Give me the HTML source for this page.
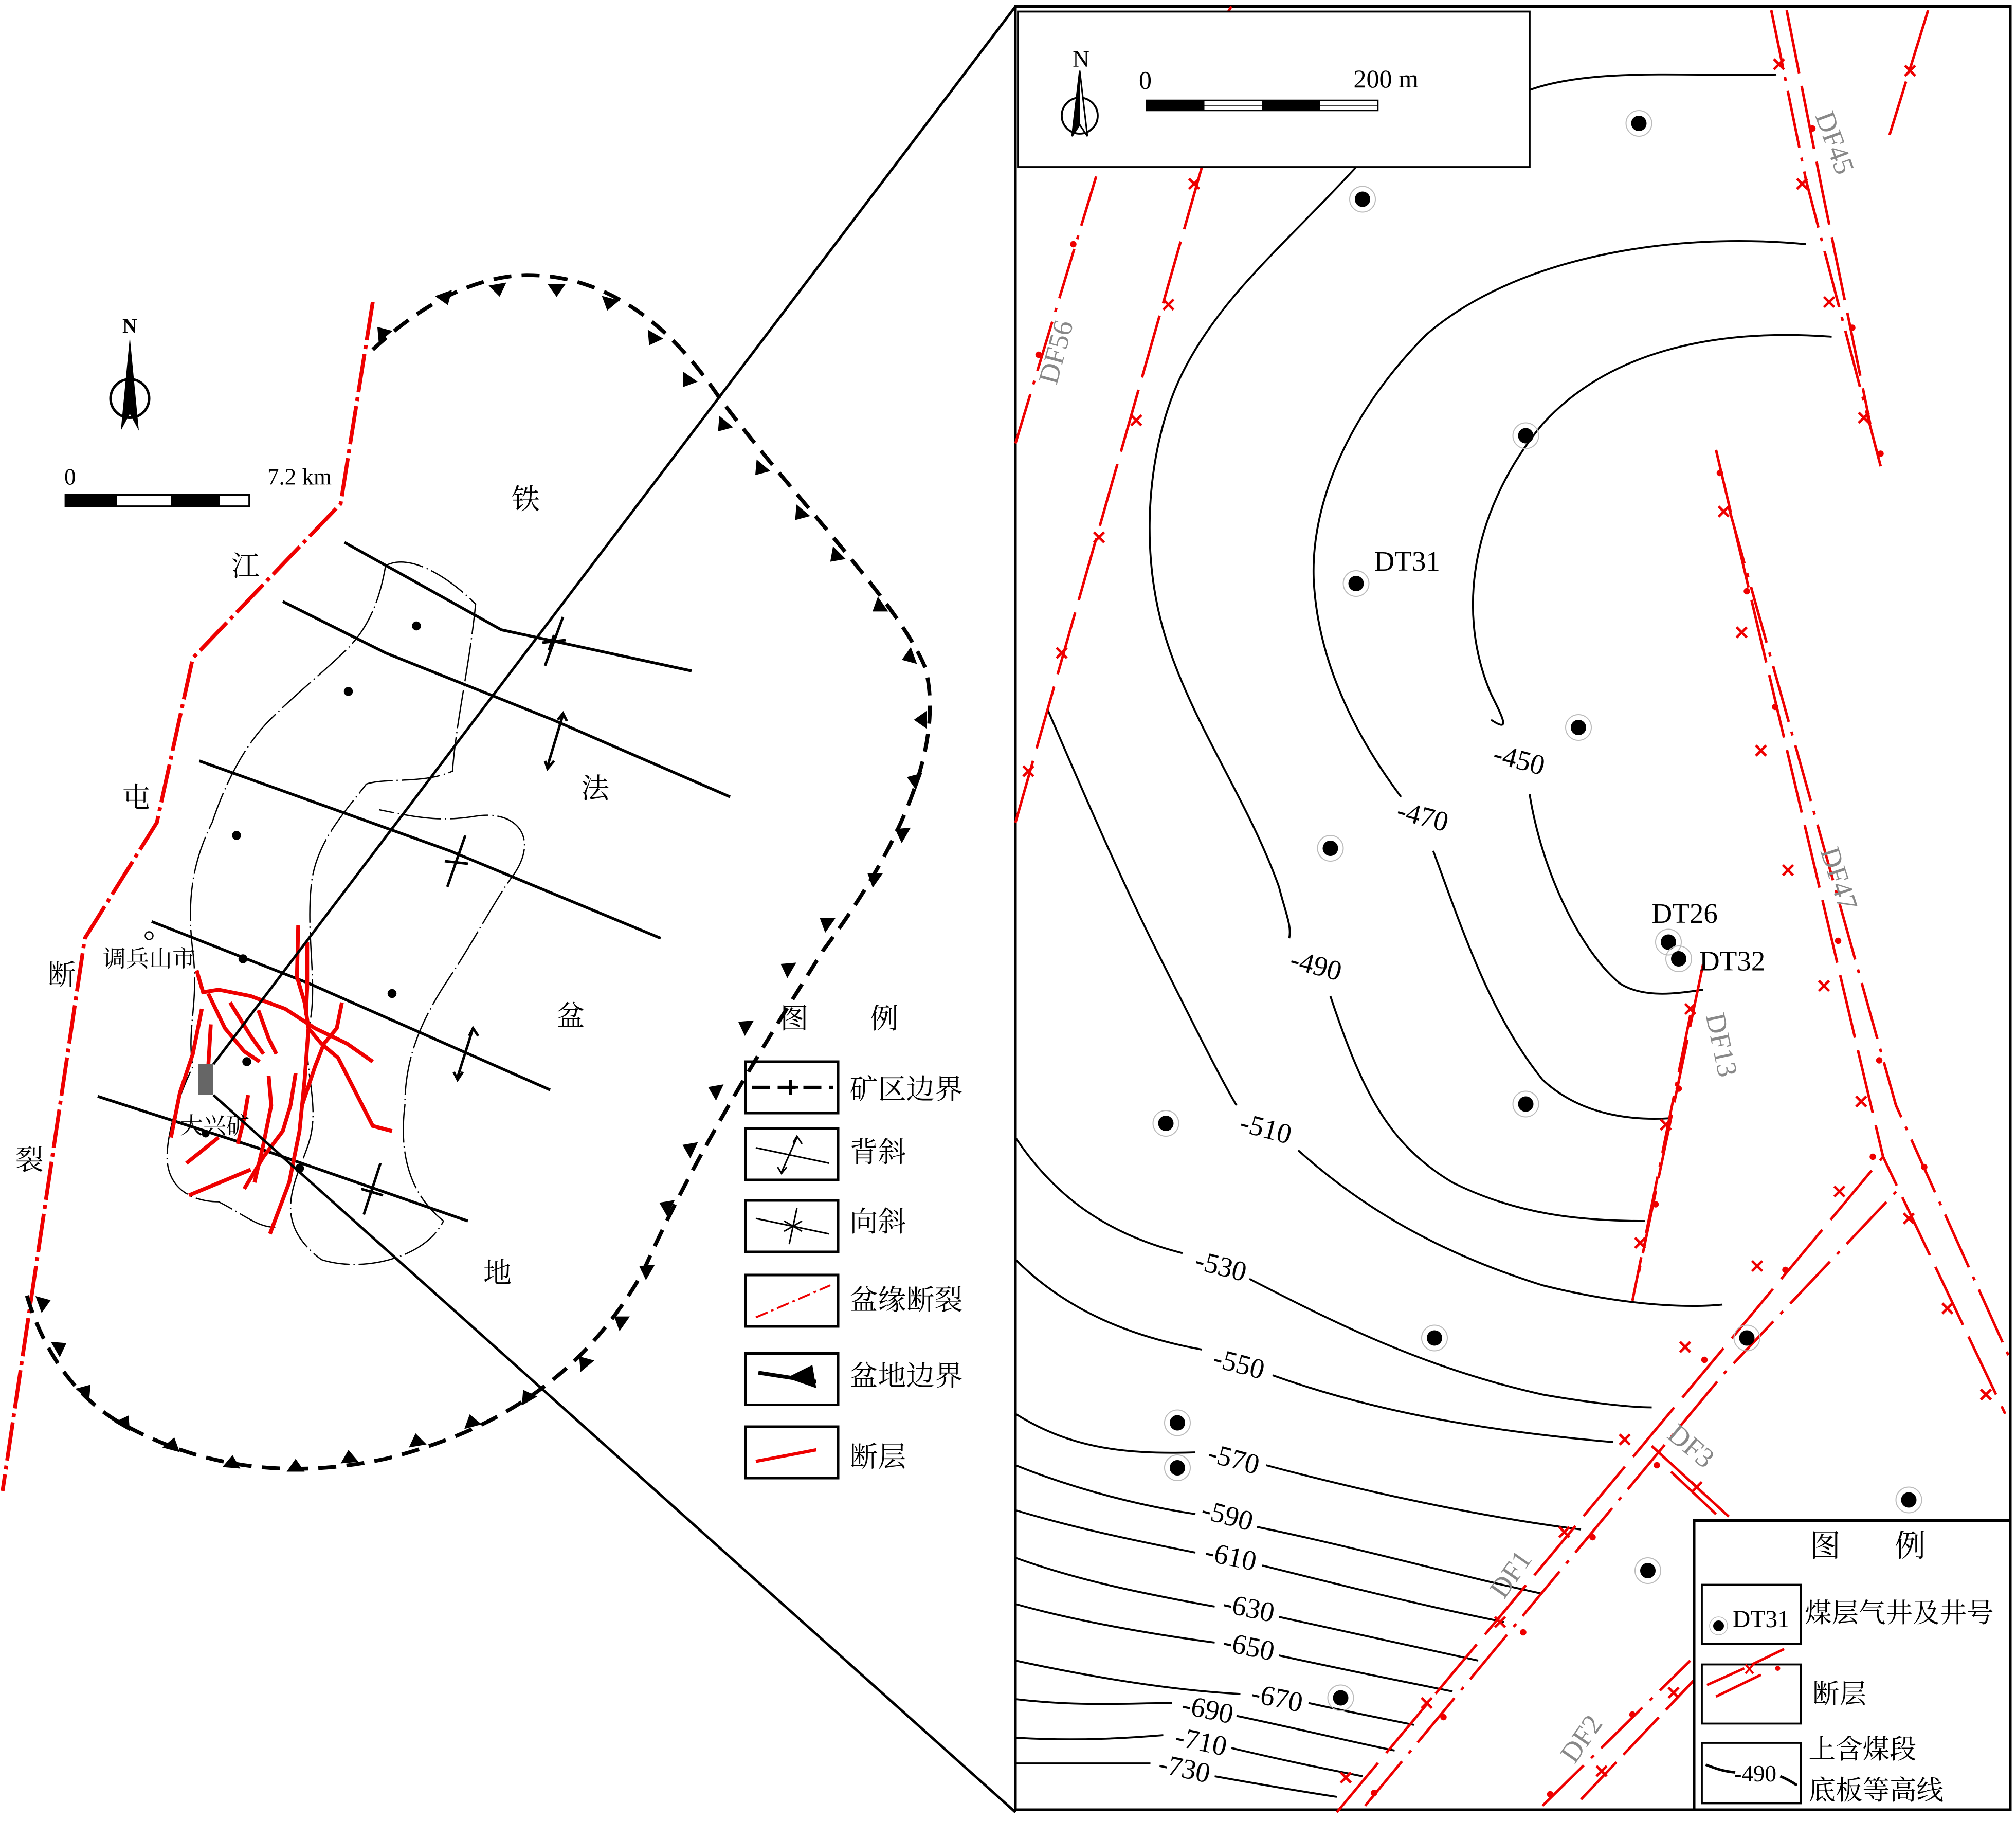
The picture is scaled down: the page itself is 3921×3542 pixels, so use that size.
<!DOCTYPE html>
<html><head><meta charset="utf-8"><style>
html,body{margin:0;padding:0;background:#fff}
svg{display:block}
text{font-family:"Liberation Serif","Noto Serif CJK SC","Noto Sans CJK SC",serif}
</style></head><body>
<svg width="3921" height="3542" viewBox="0 0 1568.4 1416.8" xmlns="http://www.w3.org/2000/svg">
<rect width="1568.4" height="1416.8" fill="#fff"/>
<defs>
<g id="well"><circle r="10" fill="none" stroke="#bbb" stroke-width="0.8"/><circle r="6" fill="#000"/></g>
<g id="tri"><path d="M-7,0 L7,0 L0,-10 Z" fill="#000"/></g>
</defs>

<!-- ============ LEFT PANEL ============ -->
<!-- north arrow -->
<text x="101" y="259" font-size="16" text-anchor="middle" font-weight="bold">N</text>
<circle cx="101" cy="310" r="15" fill="none" stroke="#000" stroke-width="2"/>
<path d="M101,262 L108,335 L101,322 L94,335 Z" fill="#000"/>
<!-- scale -->
<text x="50" y="377" font-size="18">0</text>
<text x="208" y="377" font-size="18">7.2 km</text>
<rect x="51" y="385" width="143" height="9" fill="#fff" stroke="#000" stroke-width="1.5"/>
<rect x="51" y="385" width="40" height="9" fill="#000"/>
<rect x="133" y="385" width="38" height="9" fill="#000"/>

<!-- red boundary fault -->
<polyline points="290,235 265,392 150,512 122,640 66,730 2,1160" fill="none" stroke="#e00" stroke-width="3" stroke-dasharray="30,4,3,4"/>

<!-- basin boundary dashed -->
<path d="M290,272 C330,235 370,215 410,214 C470,214 520,250 560,310 C620,390 700,470 720,520 C735,580 700,660 640,740 C590,820 540,900 500,990 C460,1060 400,1110 300,1135 C230,1150 160,1145 90,1105 C50,1080 30,1040 20,1005" fill="none" stroke="#000" stroke-width="3" stroke-dasharray="14,8"/>
<g>
<use href="#tri" transform="translate(300,262) rotate(-40)"/>
<use href="#tri" transform="translate(345,228) rotate(160)"/>
<use href="#tri" transform="translate(387,221) rotate(170)"/>
<use href="#tri" transform="translate(433,221) rotate(180)"/>
<use href="#tri" transform="translate(475,232) rotate(195)"/>
<use href="#tri" transform="translate(510,260) rotate(210)"/>
<use href="#tri" transform="translate(537,293) rotate(215)"/>
<use href="#tri" transform="translate(565,328) rotate(220)"/>
<use href="#tri" transform="translate(594,362) rotate(220)"/>
<use href="#tri" transform="translate(625,397) rotate(220)"/>
<use href="#tri" transform="translate(653,430) rotate(225)"/>
<use href="#tri" transform="translate(687,470) rotate(235)"/>
<use href="#tri" transform="translate(711,510) rotate(250)"/>
<use href="#tri" transform="translate(721,560) rotate(270)"/>
<use href="#tri" transform="translate(715,608) rotate(290)"/>
<use href="#tri" transform="translate(705,650) rotate(300)"/>
<use href="#tri" transform="translate(683,685) rotate(305)"/>
<use href="#tri" transform="translate(646,720) rotate(305)"/>
<use href="#tri" transform="translate(616,755) rotate(300)"/>
<use href="#tri" transform="translate(583,800) rotate(300)"/>
<use href="#tri" transform="translate(560,850) rotate(295)"/>
<use href="#tri" transform="translate(540,895) rotate(295)"/>
<use href="#tri" transform="translate(522,940) rotate(295)"/>
<use href="#tri" transform="translate(506,990) rotate(300)"/>
<use href="#tri" transform="translate(486,1030) rotate(305)"/>
<use href="#tri" transform="translate(457,1063) rotate(320)"/>
<use href="#tri" transform="translate(412,1090) rotate(330)"/>
<use href="#tri" transform="translate(368,1110) rotate(345)"/>
<use href="#tri" transform="translate(325,1125) rotate(350)"/>
<use href="#tri" transform="translate(272,1138) rotate(355)"/>
<use href="#tri" transform="translate(230,1145) rotate(0)"/>
<use href="#tri" transform="translate(180,1142) rotate(5)"/>
<use href="#tri" transform="translate(133,1128) rotate(15)"/>
<use href="#tri" transform="translate(95,1110) rotate(30)"/>
<use href="#tri" transform="translate(64,1085) rotate(40)"/>
<use href="#tri" transform="translate(43,1050) rotate(60)"/>
<use href="#tri" transform="translate(30,1015) rotate(70)"/>
</g>

<!-- fold axes -->
<g stroke="#000" stroke-width="2.2" fill="none">
<polyline points="268,422 390,490 538,522"/>
<polyline points="220,468 300,508 430,560 568,620"/>
<polyline points="155,592 350,662 514,730"/>
<polyline points="118,717 240,765 428,848"/>
<polyline points="76,853 200,893 364,950"/>
</g>
<g stroke="#000" stroke-width="2" fill="none">
<line x1="424" y1="518" x2="438" y2="480"/><path d="M427,506 L431,494 M422,500 L440,498"/>
<line x1="426" y1="596" x2="438" y2="556"/><path d="M424,592 L426,598 L431,592 M434,560 L438,555 L441,561"/>
<line x1="348" y1="690" x2="362" y2="650"/><path d="M346,670 L364,672"/>
<line x1="356" y1="838" x2="368" y2="800"/><path d="M353,834 L356,840 L360,834 M365,806 L368,800 L372,806"/>
<line x1="283" y1="945" x2="296" y2="905"/><path d="M281,925 L298,930"/>
</g>

<!-- mine boundary (thin) -->
<path d="M300,440 C320,430 350,450 370,470 C365,520 355,560 352,600 C330,610 300,605 285,610 C270,630 245,655 242,690 C238,730 248,770 240,800 C235,830 250,860 240,890 C230,920 210,950 250,980 C280,990 330,980 345,950 C320,930 310,900 315,860 C315,820 330,790 350,760 C370,730 385,700 400,680 C420,650 400,630 370,635 C340,640 320,635 295,630 M300,440 C295,470 285,490 270,505 C255,520 230,540 210,560 C190,580 175,610 165,640 C150,670 145,700 150,740 C155,780 145,800 150,830 C140,850 130,880 130,900 C130,925 150,935 170,935 C190,945 200,955 215,955" fill="none" stroke="#000" stroke-width="1" stroke-dasharray="30,3,1,3"/>
<g fill="#000">
<circle cx="324" cy="487" r="3.5"/><circle cx="271" cy="538" r="3.5"/><circle cx="184" cy="650" r="3.5"/>
<circle cx="189" cy="746" r="3.5"/><circle cx="305" cy="773" r="3.5"/><circle cx="192" cy="826" r="3.5"/>
<circle cx="233" cy="909" r="3.5"/><circle cx="160" cy="882" r="3"/>
</g>
<circle cx="116" cy="728" r="3" fill="none" stroke="#000"/>

<!-- red faults left -->
<g stroke="#e00" stroke-width="3" fill="none">
<polyline points="153,755 158,772 170,770 195,775 222,785 245,800 270,812 290,826"/>
<polyline points="162,773 175,800 190,818 202,826"/>
<polyline points="179,780 195,806 205,820"/>
<polyline points="201,786 209,808 215,820"/>
<polyline points="232,720 231,760 237,780 240,800 237,840 233,880 225,920 210,960"/>
<polyline points="239,733 239,768 238,790"/>
<polyline points="157,785 150,820 140,850 133,885"/>
<polyline points="164,797 162,830"/>
<polyline points="240,800 250,812 263,823 290,876 305,880"/>
<polyline points="266,780 262,800 252,812 245,830 235,860"/>
<polyline points="209,837 211,860 205,890 198,920"/>
<polyline points="230,835 226,860 220,880 205,900 190,925"/>
<polyline points="170,885 145,905"/>
<polyline points="147,930 195,910"/>
<polyline points="193,852 190,870 185,890"/>
</g>
<rect x="154" y="828" width="12" height="24" fill="#666"/>

<!-- connector lines -->
<line x1="166" y1="828" x2="790" y2="5" stroke="#000" stroke-width="2"/>
<line x1="166" y1="852" x2="790" y2="1410" stroke="#000" stroke-width="2"/>

<!-- left labels -->
<g font-size="22">
<text x="398" y="396">铁</text><text x="452" y="621">法</text><text x="433" y="798">盆</text><text x="376" y="998">地</text>
<text x="180" y="448">江</text><text x="95" y="628">屯</text><text x="37" y="766">断</text><text x="12" y="910">裂</text>
</g>
<text x="80" y="752" font-size="18">调兵山市</text>
<text x="140" y="882" font-size="18">大兴矿</text>

<!-- left legend -->
<text x="607" y="800" font-size="22">图</text><text x="677" y="800" font-size="22">例</text>
<g fill="none" stroke="#000" stroke-width="2">
<rect x="580" y="826" width="72" height="40"/>
<rect x="580" y="878" width="72" height="40"/>
<rect x="580" y="934" width="72" height="40"/>
<rect x="580" y="992" width="72" height="40"/>
<rect x="580" y="1053" width="72" height="40"/>
<rect x="580" y="1110" width="72" height="40"/>
</g>
<line x1="585" y1="846" x2="648" y2="846" stroke="#000" stroke-width="2.5" stroke-dasharray="14,6"/>
<path d="M609,846 h12 M615,840 v12" stroke="#000" stroke-width="2"/>
<line x1="588" y1="893" x2="645" y2="905" stroke="#000" stroke-width="1.2"/>
<path d="M608,912 L620,885 M605,908 L608,913 L612,908 M617,889 L620,884 L624,890" stroke="#000" stroke-width="1.2" fill="none"/>
<line x1="588" y1="948" x2="645" y2="960" stroke="#000" stroke-width="1.2"/>
<path d="M614,968 L620,940 M610,950 L624,958 M610,958 L624,950" stroke="#000" stroke-width="1.2" fill="none"/>
<line x1="588" y1="1025" x2="646" y2="1000" stroke="#e00" stroke-width="1.5" stroke-dasharray="10,3,2,3"/>
<line x1="590" y1="1068" x2="635" y2="1075" stroke="#000" stroke-width="3"/>
<path d="M612,1072 L632,1062 L635,1080 Z" fill="#000"/>
<line x1="588" y1="1137" x2="635" y2="1128" stroke="#e00" stroke-width="2.5"/>
<g font-size="22">
<text x="661" y="855">矿区边界</text><text x="661" y="904">背斜</text><text x="661" y="958">向斜</text>
<text x="661" y="1019">盆缘断裂</text><text x="661" y="1078">盆地边界</text><text x="661" y="1141">断层</text>
</g>

<!-- ============ RIGHT PANEL ============ -->
<rect x="790" y="5" width="774" height="1403" fill="none" stroke="#000" stroke-width="2"/>

<!-- contours -->
<g fill="none" stroke="#000" stroke-width="1.5">
<path d="M1425,262 C1330,255 1250,275 1200,330 C1150,390 1130,470 1160,540 C1170,560 1175,570 1160,560"/>
<path d="M1190,618 C1200,680 1230,740 1260,765 C1280,778 1310,772 1325,770"/>
<path d="M1405,190 C1300,180 1180,200 1110,260 C1050,320 1020,390 1022,450 C1025,520 1060,580 1090,620"/>
<path d="M1115,662 C1140,730 1160,790 1200,840 C1230,868 1270,872 1300,870"/>
<path d="M1382,58 C1320,60 1240,52 1190,70 M1055,130 C1000,190 950,230 920,290 C895,340 885,420 905,490 C925,560 970,620 995,690 C1000,710 1005,720 1003,730"/>
<path d="M1035,775 C1060,850 1080,890 1130,920 C1180,945 1230,950 1280,950"/>
<path d="M815,552 C840,610 870,680 900,740 C930,800 950,840 962,860"/>
<path d="M1010,895 C1060,940 1120,975 1200,1000 C1260,1015 1310,1018 1340,1015"/>
<path d="M790,885 C820,930 860,960 920,975"/>
<path d="M972,995 C1040,1030 1110,1065 1200,1085 C1240,1092 1270,1095 1285,1095"/>
<path d="M790,980 C830,1020 880,1040 935,1050"/>
<path d="M990,1070 C1060,1095 1140,1112 1255,1122"/>
<path d="M790,1100 C830,1125 870,1132 930,1130"/>
<path d="M985,1140 C1060,1160 1150,1180 1230,1190"/>
<path d="M790,1140 C840,1160 890,1172 930,1178"/>
<path d="M978,1188 C1060,1205 1130,1225 1200,1240"/>
<path d="M790,1175 C840,1190 890,1200 930,1208"/>
<path d="M982,1218 C1050,1235 1110,1250 1170,1262"/>
<path d="M790,1212 C840,1230 890,1240 945,1250"/>
<path d="M995,1258 C1060,1272 1110,1283 1150,1292"/>
<path d="M790,1248 C840,1262 900,1272 945,1278"/>
<path d="M995,1288 C1050,1300 1100,1310 1130,1316"/>
<path d="M790,1292 C850,1305 910,1315 965,1318"/>
<path d="M1018,1325 C1050,1332 1080,1338 1100,1342"/>
<path d="M790,1322 C840,1328 880,1325 912,1325"/>
<path d="M962,1335 C1010,1345 1050,1355 1085,1362"/>
<path d="M790,1352 C840,1355 880,1352 905,1350"/>
<path d="M958,1360 C1000,1370 1030,1376 1060,1382"/>
<path d="M790,1372 C840,1372 870,1372 895,1372"/>
<path d="M945,1382 C990,1390 1020,1395 1040,1398"/>
</g>
<g font-size="22" text-anchor="middle">
<text x="1180" y="598" transform="rotate(15 1180 598)">-450</text>
<text x="1105" y="642" transform="rotate(15 1105 642)">-470</text>
<text x="1022" y="758" transform="rotate(15 1022 758)">-490</text>
<text x="983" y="885" transform="rotate(15 983 885)">-510</text>
<text x="948" y="992" transform="rotate(15 948 992)">-530</text>
<text x="962" y="1068" transform="rotate(15 962 1068)">-550</text>
<text x="958" y="1142" transform="rotate(15 958 1142)">-570</text>
<text x="953" y="1186" transform="rotate(15 953 1186)">-590</text>
<text x="956" y="1218" transform="rotate(12 956 1218)">-610</text>
<text x="970" y="1258" transform="rotate(12 970 1258)">-630</text>
<text x="970" y="1288" transform="rotate(12 970 1288)">-650</text>
<text x="992" y="1328" transform="rotate(12 992 1328)">-670</text>
<text x="938" y="1337" transform="rotate(12 938 1337)">-690</text>
<text x="933" y="1362" transform="rotate(12 933 1362)">-710</text>
<text x="920" y="1383" transform="rotate(12 920 1383)">-730</text>
</g>

<!-- red faults right -->
<g stroke="#e00" stroke-width="2" fill="none">
<polyline points="790,345 855,130" stroke-dasharray="40,8,3,8"/>
<polyline points="790,640 935,130" stroke-dasharray="50,10"/>
<polyline points="958,5 955,10"/>
<polyline points="1378,8 1405,140 1465,370" stroke-dasharray="45,8,3,8"/>
<polyline points="1390,8 1418,150 1455,330" stroke-dasharray="50,10"/>
<polyline points="1500,8 1470,105" stroke-dasharray="50,8"/>
<polyline points="1335,350 1465,900 1560,1100" stroke-dasharray="50,10"/>
<polyline points="1345,395 1475,860 1565,1060" stroke-dasharray="45,8,3,8"/>
<polyline points="1040,1410 1290,1110 1465,900" stroke-dasharray="50,10"/>
<polyline points="1062,1405 1340,1070 1480,922" stroke-dasharray="45,8,3,8"/>
<polyline points="1325,750 1275,990" stroke-dasharray="50,10"/>
<polyline points="1315,790 1270,1012" stroke-dasharray="45,8,3,8"/>
<polyline points="1285,1125 1345,1180"/>
<polyline points="1300,1145 1335,1178"/>
<polyline points="1200,1405 1315,1292" stroke-dasharray="45,8,3,8"/>
<polyline points="1230,1400 1320,1305" stroke-dasharray="40,8"/>
</g>
<g fill="none" stroke="#e00" stroke-width="2">
<path id="x" d="M-4,-4 L4,4 M-4,4 L4,-4" transform="translate(929,143)"/>
<path d="M-4,-4 L4,4 M-4,4 L4,-4" transform="translate(909,237)"/>
<path d="M-4,-4 L4,4 M-4,4 L4,-4" transform="translate(884,327)"/>
<path d="M-4,-4 L4,4 M-4,4 L4,-4" transform="translate(855,418)"/>
<path d="M-4,-4 L4,4 M-4,4 L4,-4" transform="translate(826,508)"/>
<path d="M-4,-4 L4,4 M-4,4 L4,-4" transform="translate(800,600)"/>
<path d="M-4,-4 L4,4 M-4,4 L4,-4" transform="translate(1384,50)"/>
<path d="M-4,-4 L4,4 M-4,4 L4,-4" transform="translate(1402,143)"/>
<path d="M-4,-4 L4,4 M-4,4 L4,-4" transform="translate(1423,235)"/>
<path d="M-4,-4 L4,4 M-4,4 L4,-4" transform="translate(1450,325)"/>
<path d="M-4,-4 L4,4 M-4,4 L4,-4" transform="translate(1486,55)"/>
<path d="M-4,-4 L4,4 M-4,4 L4,-4" transform="translate(1341,398)"/>
<path d="M-4,-4 L4,4 M-4,4 L4,-4" transform="translate(1355,492)"/>
<path d="M-4,-4 L4,4 M-4,4 L4,-4" transform="translate(1370,584)"/>
<path d="M-4,-4 L4,4 M-4,4 L4,-4" transform="translate(1391,677)"/>
<path d="M-4,-4 L4,4 M-4,4 L4,-4" transform="translate(1419,767)"/>
<path d="M-4,-4 L4,4 M-4,4 L4,-4" transform="translate(1448,857)"/>
<path d="M-4,-4 L4,4 M-4,4 L4,-4" transform="translate(1485,948)"/>
<path d="M-4,-4 L4,4 M-4,4 L4,-4" transform="translate(1515,1018)"/>
<path d="M-4,-4 L4,4 M-4,4 L4,-4" transform="translate(1545,1085)"/>
<path d="M-4,-4 L4,4 M-4,4 L4,-4" transform="translate(1431,927)"/>
<path d="M-4,-4 L4,4 M-4,4 L4,-4" transform="translate(1367,985)"/>
<path d="M-4,-4 L4,4 M-4,4 L4,-4" transform="translate(1311,1048)"/>
<path d="M-4,-4 L4,4 M-4,4 L4,-4" transform="translate(1264,1120)"/>
<path d="M-4,-4 L4,4 M-4,4 L4,-4" transform="translate(1217,1192)"/>
<path d="M-4,-4 L4,4 M-4,4 L4,-4" transform="translate(1167,1262)"/>
<path d="M-4,-4 L4,4 M-4,4 L4,-4" transform="translate(1110,1325)"/>
<path d="M-4,-4 L4,4 M-4,4 L4,-4" transform="translate(1047,1383)"/>
<path d="M-4,-4 L4,4 M-4,4 L4,-4" transform="translate(1315,785)"/>
<path d="M-4,-4 L4,4 M-4,4 L4,-4" transform="translate(1296,875)"/>
<path d="M-4,-4 L4,4 M-4,4 L4,-4" transform="translate(1276,967)"/>
<path d="M-4,-4 L4,4 M-4,4 L4,-4" transform="translate(1320,1157)"/>
<path d="M-4,-4 L4,4 M-4,4 L4,-4" transform="translate(1302,1317)"/>
<path d="M-4,-4 L4,4 M-4,4 L4,-4" transform="translate(1246,1378)"/>
</g>
<g fill="#e00">
<circle cx="835" cy="190" r="2.5"/><circle cx="808" cy="276" r="2.5"/>
<circle cx="1410" cy="100" r="2.5"/><circle cx="1441" cy="255" r="2.5"/><circle cx="1463" cy="353" r="2.5"/>
<circle cx="1338" cy="368" r="2.5"/><circle cx="1359" cy="460" r="2.5"/><circle cx="1381" cy="550" r="2.5"/>
<circle cx="1430" cy="732" r="2.5"/><circle cx="1462" cy="825" r="2.5"/><circle cx="1497" cy="908" r="2.5"/>
<circle cx="1457" cy="900" r="2.5"/><circle cx="1389" cy="988" r="2.5"/><circle cx="1326" cy="1058" r="2.5"/>
<circle cx="1289" cy="1140" r="2.5"/><circle cx="1239" cy="1196" r="2.5"/><circle cx="1185" cy="1270" r="2.5"/>
<circle cx="1123" cy="1336" r="2.5"/><circle cx="1069" cy="1395" r="2.5"/>
<circle cx="1306" cy="847" r="2.5"/><circle cx="1288" cy="937" r="2.5"/>
<circle cx="1270" cy="1334" r="2.5"/><circle cx="1206" cy="1396" r="2.5"/>
</g>
<g font-size="22" fill="#888">
<text x="1412" y="90" transform="rotate(70 1412 90)">DF45</text>
<text x="822" y="300" transform="rotate(-75 822 300)">DF56</text>
<text x="1416" y="662" transform="rotate(72 1416 662)">DF47</text>
<text x="1327" y="790" transform="rotate(78 1327 790)">DF13</text>
<text x="1296" y="1118" transform="rotate(40 1296 1118)">DF3</text>
<text x="1170" y="1245" transform="rotate(-55 1170 1245)">DF1</text>
<text x="1225" y="1373" transform="rotate(-55 1225 1373)">DF2</text>
</g>

<!-- wells -->
<use href="#well" x="1275" y="96"/><use href="#well" x="1060" y="155"/><use href="#well" x="1187" y="339"/>
<use href="#well" x="1055" y="454"/><use href="#well" x="1228" y="566"/><use href="#well" x="1035" y="660"/>
<use href="#well" x="1298" y="733"/><use href="#well" x="1306" y="746"/><use href="#well" x="1187" y="859"/>
<use href="#well" x="907" y="874"/><use href="#well" x="1116" y="1041"/><use href="#well" x="1359" y="1041"/>
<use href="#well" x="916" y="1107"/><use href="#well" x="916" y="1142"/><use href="#well" x="1282" y="1222"/>
<use href="#well" x="1485" y="1167"/><use href="#well" x="1043" y="1321"/>
<g font-size="22">
<text x="1069" y="444">DT31</text><text x="1285" y="718">DT26</text><text x="1322" y="755">DT32</text>
</g>

<!-- scale box -->
<rect x="792" y="9" width="398" height="121" fill="#fff" stroke="#000" stroke-width="1.5"/>
<text x="841" y="52" font-size="18" text-anchor="middle">N</text>
<circle cx="840" cy="90" r="14" fill="none" stroke="#000" stroke-width="1.5"/>
<path d="M840,55 L846,106 L840,97 L834,106 Z" fill="#fff" stroke="#000" stroke-width="1.2"/>
<path d="M840,55 L840,97 L834,106 Z" fill="#000"/>
<text x="886" y="69" font-size="20">0</text>
<text x="1053" y="68" font-size="20">200 m</text>
<rect x="892" y="78" width="180" height="8" fill="#fff" stroke="#000" stroke-width="1"/>
<rect x="892" y="78" width="45" height="8" fill="#000"/>
<rect x="982" y="78" width="45" height="8" fill="#000"/>
<line x1="937" y1="82" x2="982" y2="82" stroke="#000" stroke-width="0.6"/>
<line x1="1027" y1="82" x2="1072" y2="82" stroke="#000" stroke-width="0.6"/>

<!-- right legend -->
<rect x="1318" y="1183" width="246" height="225" fill="#fff" stroke="#000" stroke-width="2"/>
<text x="1408" y="1211" font-size="24">图</text><text x="1474" y="1211" font-size="24">例</text>
<g fill="none" stroke="#000" stroke-width="1.5">
<rect x="1324" y="1233" width="77" height="46"/>
<rect x="1324" y="1295" width="77" height="46"/>
<rect x="1324" y="1356" width="77" height="47"/>
</g>
<use href="#well" x="1337" y="1265" transform="translate(1337 1265) scale(0.7) translate(-1337 -1265)"/>
<text x="1348" y="1266" font-size="19">DT31</text>
<path d="M1328,1311 L1357,1298 M1363,1295 L1388,1283 M1335,1320 L1370,1303" stroke="#e00" stroke-width="2"/>
<path d="M1358,1295 L1364,1302 M1364,1295 L1358,1302" stroke="#e00" stroke-width="1.5"/>
<circle cx="1383" cy="1298" r="2" fill="#e00"/>
<path d="M1327,1373 C1335,1376 1340,1378 1350,1379 M1385,1382 C1390,1384 1395,1387 1398,1389" stroke="#000" stroke-width="2" fill="none"/>
<text x="1349" y="1386" font-size="18">-490</text>
<g font-size="21">
<text x="1404" y="1262">煤层气井及井号</text>
<text x="1410" y="1325">断层</text>
<text x="1407" y="1368">上含煤段</text>
<text x="1407" y="1400">底板等高线</text>
</g>
</svg>
</body></html>
